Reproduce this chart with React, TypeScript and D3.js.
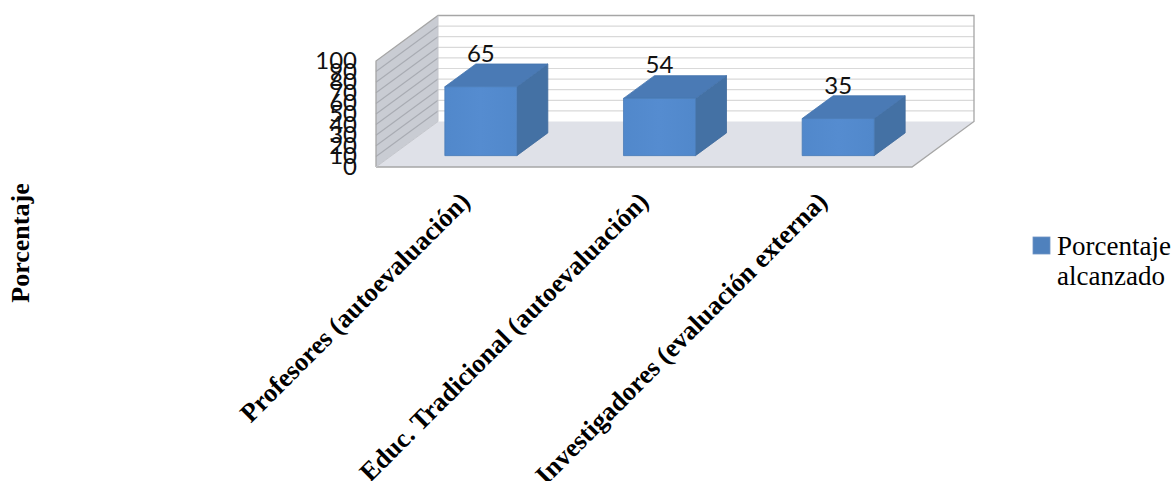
import React from "react";
import * as d3 from "d3";

const categories = [
  "Profesores (autoevaluación)",
  "Educ. Tradicional (autoevaluación)",
  "Investigadores (evaluación externa)",
];
const values = [65, 54, 35];
const tickValues = d3.range(0, 101, 10);
const seriesName = ["Porcentaje", "alcanzado"];
const axisTitle = "Porcentaje";

const WIDTH = 1173;
const HEIGHT = 481;

// Oblique projection: the floor recedes by this offset from front to back.
const DEPTH_X = 62;
const DEPTH_Y = -45.5;
const FRONT_LEFT = 376;
const FRONT_RIGHT = 912;

const xBand = d3.scaleBand<string>().domain(categories).range([FRONT_LEFT, FRONT_RIGHT]);
const yFront = d3.scaleLinear().domain([0, 100]).range([167, 61]);

const BAR_FRACTION = 0.403;
const DEPTH_NEAR = 0.25;
const DEPTH_FAR = 0.75;

const project = (x: number, v: number, depth: number): [number, number] => [
  x + DEPTH_X * depth,
  yFront(v) + DEPTH_Y * depth,
];

const poly = (pts: [number, number][]) => d3.line()(pts)! + "Z";

export default function App() {
  const y0 = 0;
  const y100 = 100;
  return (
    <svg
      width={WIDTH}
      height={HEIGHT}
      viewBox={`0 0 ${WIDTH} ${HEIGHT}`}
      style={{ position: "absolute", left: 0, top: 0, background: "#fff" }}
    >
      <defs>
        <linearGradient id="frontFace" x1="0" y1="0" x2="1" y2="0">
          <stop offset="0" stopColor="#5188cb" />
          <stop offset="0.5" stopColor="#558cd0" />
          <stop offset="1" stopColor="#5188cb" />
        </linearGradient>
      </defs>

      {/* back wall */}
      <path
        d={poly([
          project(FRONT_LEFT, y0, 1),
          project(FRONT_LEFT, y100, 1),
          project(FRONT_RIGHT, y100, 1),
          project(FRONT_RIGHT, y0, 1),
        ])}
        fill="#ffffff"
      />
      {/* side wall */}
      <path
        d={poly([
          project(FRONT_LEFT, y0, 0),
          project(FRONT_LEFT, y100, 0),
          project(FRONT_LEFT, y100, 1),
          project(FRONT_LEFT, y0, 1),
        ])}
        fill="#c9ccd3"
      />
      {/* floor */}
      <path
        d={poly([
          project(FRONT_LEFT, y0, 0),
          project(FRONT_RIGHT, y0, 0),
          project(FRONT_RIGHT, y0, 1),
          project(FRONT_LEFT, y0, 1),
        ])}
        fill="#dfe1e8"
      />

      {/* gridlines: one run on the shaded side wall, one on the back wall */}
      {tickValues.slice(1, -1).map((t) => (
        <g key={t} fill="none" strokeWidth={1.2}>
          <path d={d3.line()([project(FRONT_LEFT, t, 0), project(FRONT_LEFT, t, 1)])!} stroke="#a9acb3" />
          <path d={d3.line()([project(FRONT_LEFT, t, 1), project(FRONT_RIGHT, t, 1)])!} stroke="#d9d9d9" />
        </g>
      ))}

      {/* frame edges */}
      <path
        d={d3.line()([
          project(FRONT_LEFT, y0, 0),
          project(FRONT_LEFT, y100, 0),
          project(FRONT_LEFT, y100, 1),
          project(FRONT_RIGHT, y100, 1),
          project(FRONT_RIGHT, y0, 1),
          project(FRONT_RIGHT, y0, 0),
          project(FRONT_LEFT, y0, 0),
        ])!}
        fill="none"
        stroke="#a6a6a6"
        strokeWidth={1.3}
      />
      <path
        d={d3.line()([project(FRONT_LEFT, y100, 1), project(FRONT_LEFT, y0, 1), project(FRONT_LEFT, y0, 0)])!}
        fill="none"
        stroke="#c4c6cc"
        strokeWidth={1}
      />

      {/* value axis labels, crowded against each other */}
      {tickValues.map((t) => (
        <text
          key={t}
          x={357}
          y={yFront(t) + 8}
          textAnchor="end"
          fontFamily="Lato, sans-serif"
          fontSize={24}
          fill="#111"
        >
          {t}
        </text>
      ))}

      {/* bars */}
      {categories.map((c, i) => {
        const v = values[i];
        const cx = xBand(c)! + xBand.bandwidth() / 2;
        const half = (xBand.bandwidth() * BAR_FRACTION) / 2;
        const l = cx - half;
        const r = cx + half;
        const labelPos = project(cx, v, DEPTH_NEAR);
        return (
          <g key={c}>
            <path
              d={poly([project(r, 0, DEPTH_NEAR), project(r, v, DEPTH_NEAR), project(r, v, DEPTH_FAR), project(r, 0, DEPTH_FAR)])}
              fill="#4471a4"
              stroke="#3f6a9c"
              strokeWidth={0.8}
            />
            <path
              d={poly([project(l, v, DEPTH_NEAR), project(r, v, DEPTH_NEAR), project(r, v, DEPTH_FAR), project(l, v, DEPTH_FAR)])}
              fill="#4a7ab5"
              stroke="#4575ae"
              strokeWidth={0.8}
            />
            <path
              d={poly([project(l, 0, DEPTH_NEAR), project(l, v, DEPTH_NEAR), project(r, v, DEPTH_NEAR), project(r, 0, DEPTH_NEAR)])}
              fill="url(#frontFace)"
              stroke="#4a7cb8"
              strokeWidth={0.8}
            />
            <text
              x={labelPos[0]}
              y={labelPos[1] - 25}
              textAnchor="middle"
              fontFamily="Lato, sans-serif"
              fontSize={24}
              fill="#111"
            >
              {v}
            </text>
          </g>
        );
      })}

      {/* rotated category labels, anchored at their upper end */}
      {categories.map((c) => {
        const cx = xBand(c)! + xBand.bandwidth() / 2;
        return (
          <text
            key={c}
            transform={`translate(${cx - 7},${190}) rotate(-45)`}
            textAnchor="end"
            fontFamily="'Liberation Serif', serif"
            fontWeight="bold"
            fontSize={26.4}
            fill="#000"
            dy="0.7em"
          >
            {c}
          </text>
        );
      })}

      {/* vertical axis title */}
      <text
        transform="translate(29,243) rotate(-90)"
        textAnchor="middle"
        fontFamily="'Liberation Serif', serif"
        fontWeight="bold"
        fontSize={26}
        fill="#000"
      >
        {axisTitle}
      </text>

      {/* legend */}
      <rect x={1033} y={237} width={17} height={17} fill="#4f81bd" stroke="#6f93c4" strokeWidth={0.8} />
      {seriesName.map((s, i) => (
        <text
          key={s}
          x={1057}
          y={255 + i * 30}
          fontFamily="'Liberation Serif', serif"
          fontSize={27}
          fill="#000"
        >
          {s}
        </text>
      ))}
    </svg>
  );
}
